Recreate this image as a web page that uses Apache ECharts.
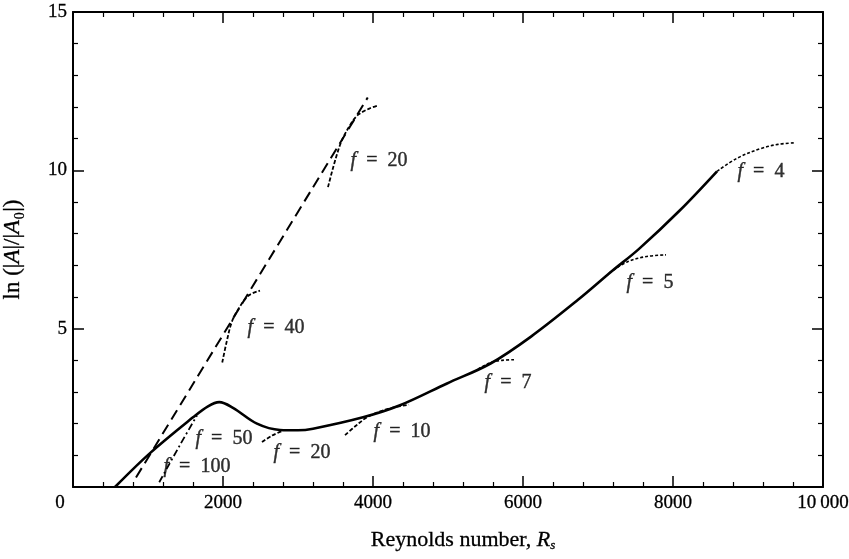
<!DOCTYPE html>
<html>
<head>
<meta charset="utf-8">
<script src="https://cdn.jsdelivr.net/npm/echarts@6/dist/echarts.min.js"></script>
<style>
  html, body { margin: 0; background: #fff; }
  #chart { width: 849px; height: 559px; }
</style>
</head>
<body>
<div id="chart"></div>
<script>
// x = Reynolds number, y = ln(|A|/|A0|)
var mainCurve = [[560, 0], [1027, 1.07], [1600, 2.2], [1800, 2.55], [1950, 2.68], [2133, 2.5],
  [2453, 2.0], [2760, 1.8], [3000, 1.79], [3200, 1.84], [3867, 2.2], [4360, 2.58], [4987, 3.27],
  [5567, 3.9], [6107, 4.75], [6733, 5.91], [7187, 6.82], [7547, 7.52], [8093, 8.74], [8587, 9.97]]
var growthLine = [[840, 0.3], [3930, 12.3]]
var f100 = [[1150, 0.15], [1420, 1.3], [1653, 2.26]]
var f40 = [[1990, 3.93], [2050, 4.6], [2116, 5.2], [2200, 5.6], [2338, 6.04], [2493, 6.2]]
var f20Upper = [[3400, 9.47], [3560, 10.8], [3700, 11.45], [3800, 11.75], [3950, 11.95], [4070, 12.05]]
var f20Lower = [[2520, 1.42], [2650, 1.62], [2800, 1.78]]
var f10 = [[3627, 1.64], [3780, 1.95], [3920, 2.2], [4200, 2.47], [4480, 2.6]]
var f7 = [[5400, 3.72], [5567, 3.93], [5720, 4.0], [5880, 4.02]]
var f5 = [[7147, 6.76], [7400, 7.12], [7650, 7.28], [7907, 7.33]]
var f4 = [[8587, 9.97], [8853, 10.38], [9173, 10.69], [9400, 10.82], [9627, 10.87]]
// where each "f = .." note sits
var fLabels = [[4080, 10.3, '20'], [2707, 5.03, '40'], [2013, 1.51, '50'], [1653, 0.63, '100'],
  [3053, 1.07, '20'], [4387, 1.73, '10'], [5800, 3.3, '7'], [7693, 6.45, '5'], [9173, 9.97, '4']]
var xTicks = [0, 2000, 4000, 6000, 8000, 10000]
var yTicks = [0, 5, 10, 15]

var font = 'Liberation Serif'
var ink = { color: '#000', textBorderColor: '#000', textBorderWidth: 0.3 }
var chart = echarts.init(document.getElementById('chart'))

function txt(size, extra) {
  return Object.assign({ fontFamily: font, fontSize: size }, ink, extra || {})
}

function curve(data, width, type) {
  return {
    type: 'line',
    data: data,
    smooth: 0.35,
    showSymbol: false,
    silent: true,
    lineStyle: { color: '#000', width: width, type: type }
  }
}

function axisX(pos, showLabel) {
  return {
    type: 'value',
    position: pos,
    min: xTicks[0],
    max: xTicks[xTicks.length - 1],
    interval: xTicks[1] - xTicks[0],
    name: showLabel ? 'Reynolds number, {i|R}{sub|s}' : '',
    nameLocation: 'middle',
    nameGap: 42,
    nameTextStyle: txt(22, {
      padding: [0, 0, 0, 30],
      rich: {
        i: txt(22, { fontStyle: 'italic' }),
        sub: txt(13, { fontStyle: 'italic', verticalAlign: 'bottom', padding: [10, 0, 0, 0] })
      }
    }),
    axisLine: { onZero: false, lineStyle: { color: '#000', width: 2 } },
    axisTick: { inside: true, length: 11, lineStyle: { color: '#000', width: 1.5 } },
    minorTick: { show: true, splitNumber: 5, length: 5, lineStyle: { color: '#000', width: 1.2 } },
    splitLine: { show: false },
    axisLabel: Object.assign(txt(19), {
      show: showLabel,
      margin: 7,
      formatter: function(v) {
        if (v === 0) return '{z|0}'
        return v >= 10000 ? '10\u2009000' : String(v)
      },
      rich: { z: txt(19, { padding: [0, 26, 0, 0] }) }
    })
  }
}

function axisY(pos, showLabel) {
  return {
    type: 'value',
    position: pos,
    min: yTicks[0],
    max: yTicks[yTicks.length - 1],
    interval: yTicks[1] - yTicks[0],
    name: showLabel ? 'ln (|{i|A}|/|{i|A}₀|)' : '',
    nameLocation: 'middle',
    nameGap: 49,
    nameTextStyle: txt(23, { rich: { i: txt(23, { fontStyle: 'italic' }) } }),
    axisLine: { onZero: false, lineStyle: { color: '#000', width: 2 } },
    axisTick: { inside: true, length: 11, lineStyle: { color: '#000', width: 1.5 } },
    minorTick: { show: true, splitNumber: 5, length: 5, lineStyle: { color: '#000', width: 1.2 } },
    splitLine: { show: false },
    axisLabel: Object.assign(txt(19), {
      show: showLabel,
      showMinLabel: false,
      margin: 6
    })
  }
}

var option = {
  backgroundColor: '#fff',
  animation: false,
  grid: { left: 73, right: 26, top: 12, bottom: 72, containLabel: false, outerBoundsMode: 'none' },
  xAxis: [axisX('bottom', true), axisX('top', false)],
  yAxis: [axisY('left', true), axisY('right', false)],
  series: [
    curve(mainCurve, 2.6, 'solid'),
    curve(growthLine, 2, [11, 6]),
    curve(f100, 1.8, [7, 3, 2, 3]),
    curve(f40, 1.8, [4, 2]),
    curve(f20Upper, 1.8, [4, 2]),
    curve(f20Lower, 1.8, [4, 2]),
    curve(f10, 1.8, [4, 2]),
    curve(f7, 1.6, [3, 2]),
    curve(f5, 1.6, [3, 2]),
    curve(f4, 1.6, [3, 2]),
    {
      type: 'scatter',
      symbolSize: 0,
      silent: true,
      data: fLabels.map(function(d) {
        return { value: [d[0], d[1]], name: d[2] }
      }),
      label: Object.assign(txt(20, { textBorderWidth: 0.4 }), {
        show: true,
        position: 'inside',
        formatter: function(p) {
          return '{i|f}\u2002=\u2002' + p.name
        },
        rich: { i: txt(20, { fontStyle: 'italic', textBorderWidth: 0.4 }) }
      })
    }
  ]
}
chart.setOption(option)
</script>
</body>
</html>
